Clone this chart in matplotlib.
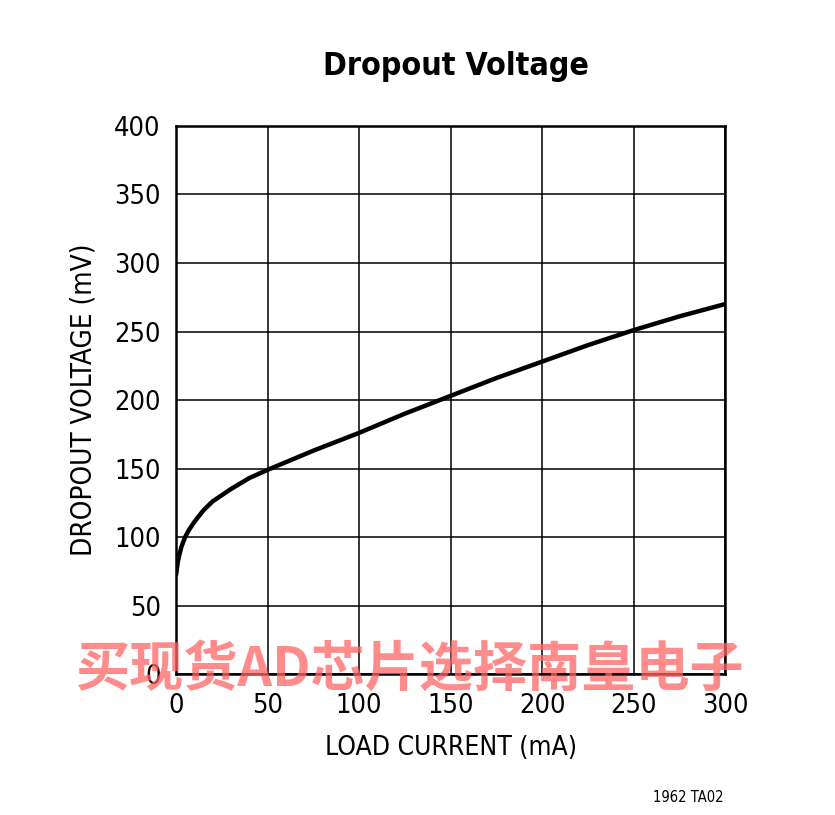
import numpy as np
import matplotlib.pyplot as plt

# curve
LOAD_MA = [0, 1, 2, 3, 5, 7, 10, 15, 20, 30, 40, 50, 75, 100, 125, 150, 175, 200, 225, 250, 275, 300]
DROPOUT_MV = [72, 82, 88, 93, 100, 105, 111, 119.5, 126, 135, 143, 149, 163, 176, 190, 203, 216, 228, 240, 251, 261, 270]

X_TICKS = [0, 50, 100, 150, 200, 250, 300]
Y_TICKS = [0, 50, 100, 150, 200, 250, 300, 350, 400]

plt.rcParams["font.family"] = ["DejaVu Sans"]
plt.rcParams["font.stretch"] = "condensed"

fig = plt.figure(figsize=(8.35, 8.15), dpi=100)
ax = fig.add_axes([0.2108, 0.1730, 0.6575, 0.6724])

ax.plot(LOAD_MA, DROPOUT_MV, color="black", lw=3.2, solid_capstyle="butt", zorder=3)

ax.set_xlim(0, 300)
ax.set_ylim(0, 400)
ax.set_xticks(X_TICKS)
ax.set_yticks(Y_TICKS)
ax.grid(True, color="black", lw=1.1)
ax.tick_params(length=0, labelsize=19.5)
ax.tick_params(axis="x", pad=14)
ax.tick_params(axis="y", pad=11)
for s in ax.spines.values():
    s.set_linewidth(1.8)

ax.set_xlabel("LOAD CURRENT (mA)", fontsize=19, labelpad=11)
ax.set_ylabel("DROPOUT VOLTAGE (mV)", fontsize=20, labelpad=12)
fig.text(0.546, 0.918, "Dropout Voltage", ha="center", va="center",
         fontsize=23, fontweight="bold")
fig.text(0.824, 0.022, "1962 TA02", ha="center", va="center", fontsize=10.5)

# watermark
fig.text(0.49, 0.178, "买现货AD芯片选择南皇电子", ha="center", va="center",
         fontsize=39, fontweight="bold", color="#ff6464", alpha=0.75,
         family=["Noto Sans CJK SC", "DejaVu Sans"], zorder=10)

fig.savefig("out.png", dpi=100)
